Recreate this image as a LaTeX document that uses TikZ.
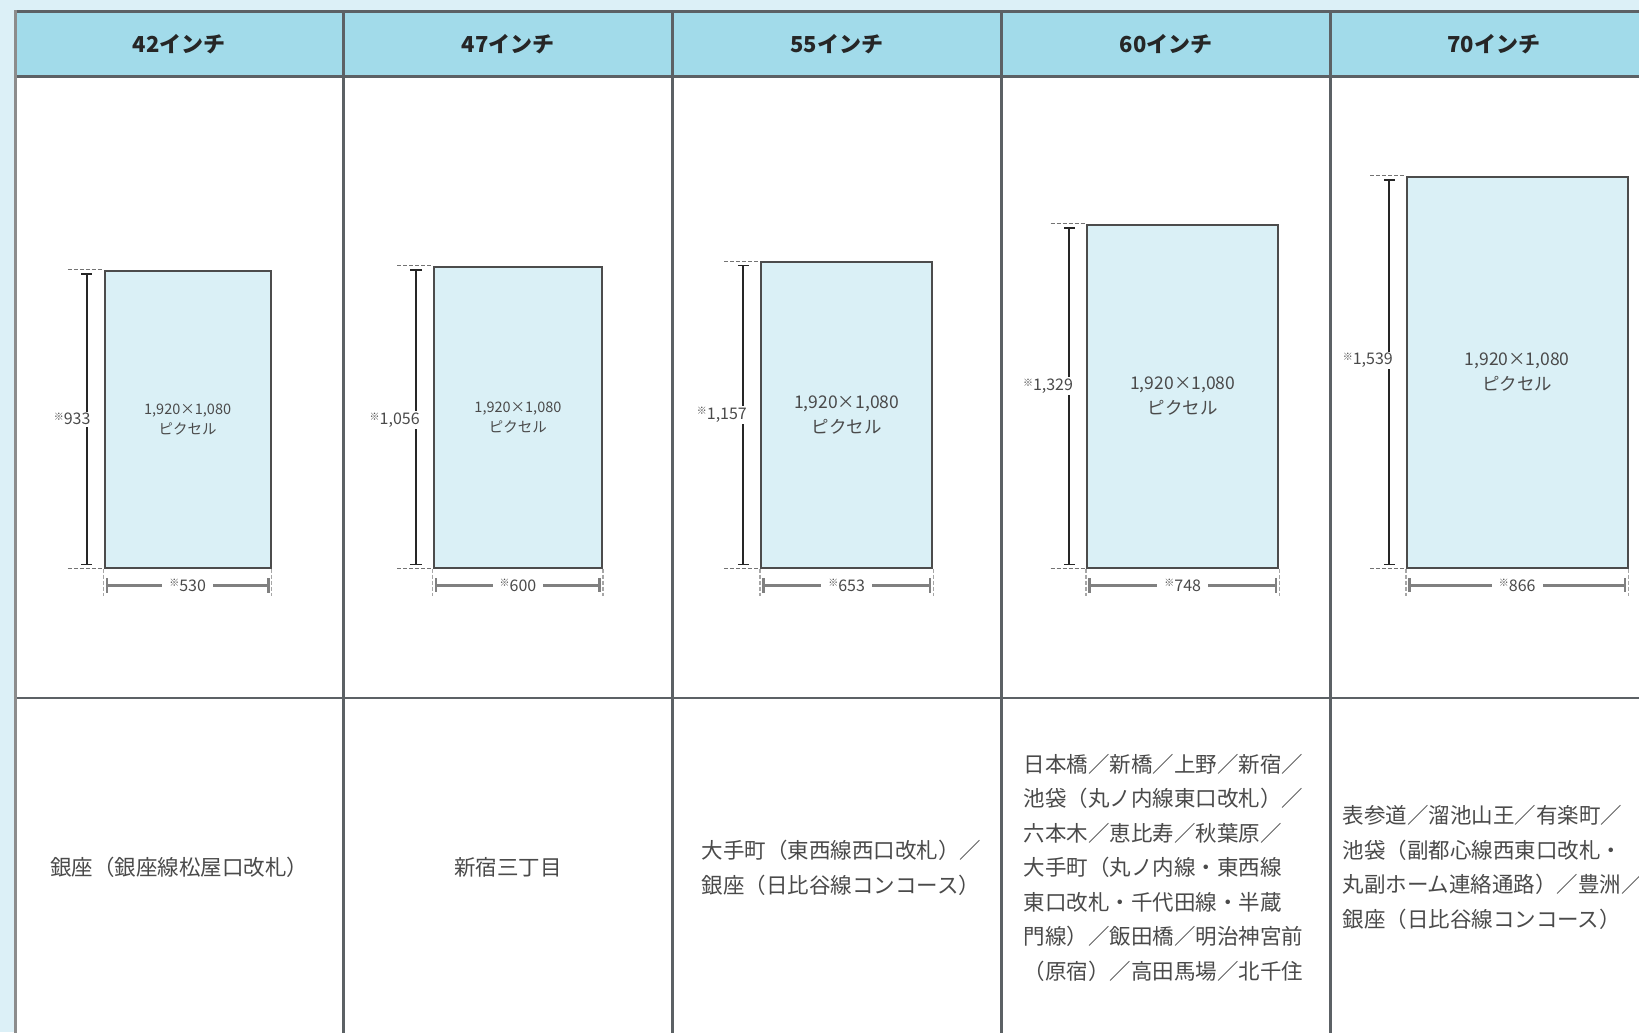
\documentclass[tikz,border=0pt]{standalone}
\usepackage{fontspec}
\setmainfont{Noto Sans CJK JP}
\usepackage{tikz}
\usetikzlibrary{arrows,calc,positioning}
\usepackage{xcolor}
\definecolor{pageblue}{HTML}{DCF0F7}
\definecolor{headblue}{HTML}{A2DBEA}
\definecolor{screenblue}{HTML}{DAF0F6}
\definecolor{rulegray}{HTML}{5C6165}
\definecolor{textgray}{HTML}{4A4A4A}
\newcommand{\kome}{\raisebox{.5ex}{\fontsize{10}{10}\selectfont ※}}

\begin{document}
\begin{tikzpicture}[
    x=1.0453pt, y=-1.0453pt,
    head/.style={font=\bfseries\fontsize{22}{22}\selectfont, text=black!85},
    screen/.style={draw=black!70, line width=2pt, fill=screenblue, align=center, text=textgray, inner sep=0pt},
    smalltext/.style={font=\fontsize{14.5}{20}\selectfont},
    largetext/.style={font=\fontsize{17.5}{25}\selectfont},
    dimline/.style={draw=black!85, line width=1.8pt},
    wideline/.style={draw=black!50, line width=2.6pt},
    extline/.style={draw=black!55, line width=1.4pt, dash pattern=on 4pt off 2pt},
    dimlabel/.style={fill=white, inner sep=1.5pt, text=textgray, font=\fontsize{16}{16}\selectfont},
    place/.style={text=textgray, align=left, font=\fontsize{21.5}{34.5}\selectfont}
]
    \useasboundingbox (0,0) rectangle (1568,987.3);
    \clip (0,0) rectangle (1568,987.3);
    \fill[pageblue] (0,0) rectangle (1568,987.3);
    \fill[white] (14,10) rectangle (1600,1000);
    \fill[headblue] (14,10) rectangle (1600,73);
    \draw[rulegray, line width=3pt] (14,11) -- (1600,11) (14,73) -- (1600,73);
    \draw[rulegray, line width=2pt] (14,668) -- (1600,668);
    \draw[black!45, line width=3pt] (15,10) -- (15,1000);
    \draw[rulegray, line width=3pt] (329,10) -- (329,1000) (643,10) -- (643,1000)
        (958,10) -- (958,1000) (1273,10) -- (1273,1000);

    \node[head] (h42) at (171.5,42) {42インチ};
    \node[head] (h47) at (486,42) {47インチ};
    \node[head] (h55) at (800.5,42) {55インチ};
    \node[head] (h60) at (1115.5,42) {60インチ};
    \node[head] (h70) at (1429,42) {70インチ};

    \node[screen, smalltext, minimum width=166.2pt, minimum height=296.9pt] (s42) at (179.5,401) {1,920×1,080\\ピクセル};
    \node[screen, smalltext, minimum width=168.3pt, minimum height=301pt] (s47) at (495.5,399) {1,920×1,080\\ピクセル};
    \node[screen, largetext, minimum width=171.4pt, minimum height=305.2pt] (s55) at (810,397) {1,920×1,080\\ピクセル};
    \node[screen, largetext, minimum width=191.3pt, minimum height=342.9pt] (s60) at (1131.5,379) {1,920×1,080\\ピクセル};
    \node[screen, largetext, minimum width=220.6pt, minimum height=390.9pt] (s70) at (1451.5,356) {1,920×1,080\\ピクセル};

    \foreach \s/\h/\w/\p in {42/933/530/.5, 47/{1,056}/600/.51, 55/{1,157}/653/.5, 60/{1,329}/748/.47, 70/{1,539}/866/.47}{
        \draw[extline] ($(s\s.north west)+(-34,0)$) -- (s\s.north west);
        \draw[extline] ($(s\s.south west)+(-34,0)$) -- (s\s.south west);
        \draw[dimline, |-|] ($(s\s.north west)+(-16,3)$) -- ($(s\s.south west)+(-16,-3)$)
            node[dimlabel, pos=\p, anchor=east, xshift=6pt] {\kome\h};
        \draw[extline, black!35] (s\s.south west) -- ++(0,26);
        \draw[extline, black!35] (s\s.south east) -- ++(0,26);
        \draw[wideline, |-|] ($(s\s.south west)+(2,16)$) -- ($(s\s.south east)+(-2,16)$)
            node[dimlabel, pos=.5, inner xsep=7pt] {\kome\w};
    }

    \node[place] (p42) at (171.5,830) {銀座（銀座線松屋口改札）};
    \node[place] (p47) at (486,830) {新宿三丁目};
    \node[place, anchor=west] (p55) at (668,830) {大手町（東西線西口改札）／\\銀座（日比谷線コンコース）};
    \node[place, anchor=west] (p60) at (976,830) {日本橋／新橋／上野／新宿／\\池袋（丸ノ内線東口改札）／\\六本木／恵比寿／秋葉原／\\大手町（丸ノ内線・東西線\\東口改札・千代田線・半蔵\\門線）／飯田橋／明治神宮前\\（原宿）／高田馬場／北千住};
    \node[place, anchor=west] (p70) at (1281,830) {表参道／溜池山王／有楽町／\\池袋（副都心線西東口改札・\\丸副ホーム連絡通路）／豊洲／\\銀座（日比谷線コンコース）};
\end{tikzpicture}
\end{document}
